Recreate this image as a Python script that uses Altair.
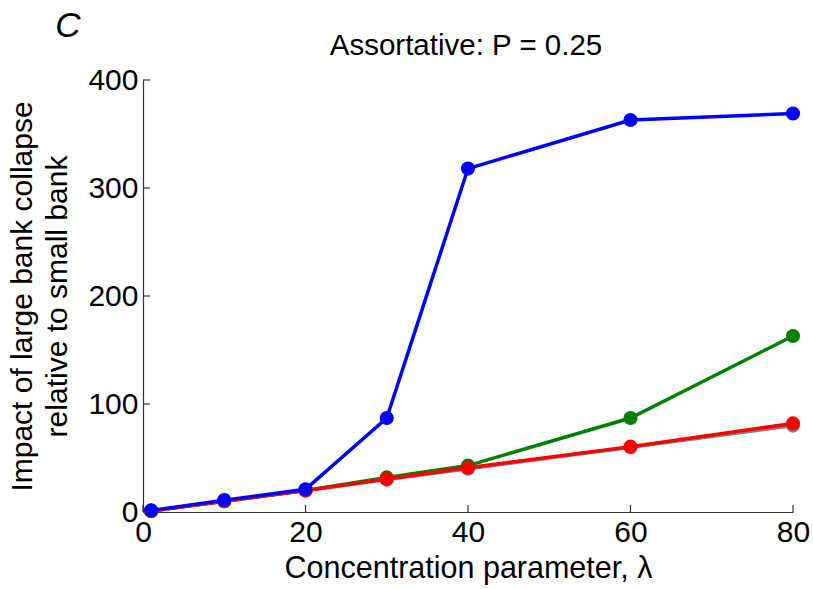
import altair as alt
import pandas as pd

# Concentration parameter values and impact ratios for each network case
lam = [1, 10, 20, 30, 40, 60, 80]
gray_vals = [1, 10, 20, 30, 40, 60, 80]
green_vals = [1, 10, 20, 32, 43, 87, 163]
red_vals = [1, 10, 20, 30.5, 41, 60.5, 82]
blue_vals = [1.5, 11, 21, 87, 318, 363, 369]

series_order = ["gray", "green", "red", "blue"]
series_values = {"gray": gray_vals, "green": green_vals, "red": red_vals, "blue": blue_vals}
series_colors = {"gray": "#808080", "green": "#008000", "red": "#ff0000", "blue": "#0000ff"}

x_ticks = [0, 20, 40, 60, 80]
y_ticks = [0, 100, 200, 300, 400]

FONT = "Liberation Sans"
AXIS_COLOR = "#333333"
W, H = 650, 432

x_scale = alt.Scale(domain=[0, 80], nice=False, zero=False)
y_scale = alt.Scale(domain=[0, 400], nice=False)

x_axis = alt.Axis(values=x_ticks, ticks=False, grid=False, domainColor=AXIS_COLOR,
                  domainWidth=1.2, labelFontSize=30, labelFont=FONT, labelColor="black",
                  labelPadding=5, title="Concentration parameter, λ", titleFontSize=30.5,
                  titleFont=FONT, titleFontWeight="normal", titleColor="black",
                  titleBaseline="alphabetic", titleY=65, labelFlush=False)
y_axis = alt.Axis(values=y_ticks, ticks=False, grid=False, domainColor=AXIS_COLOR,
                  domainWidth=1.2, labelFontSize=30, labelFont=FONT, labelColor="black",
                  labelPadding=5, title=["Impact of large bank collapse", "relative to small bank"],
                  titleFontSize=30, titleFont=FONT, titleFontWeight="normal",
                  titleColor="black", titleAngle=270, titleBaseline="middle",
                  titleX=-121, titleY=H / 2, titleLineHeight=35, labelFlush=False)

layers = []
for name in series_order:
    df = pd.DataFrame({"lam": lam, "impact": series_values[name]})
    base = alt.Chart(df).encode(
        x=alt.X("lam:Q", scale=x_scale, axis=x_axis),
        y=alt.Y("impact:Q", scale=y_scale, axis=y_axis),
    )
    layers.append(base.mark_line(color=series_colors[name], strokeWidth=3.5))
    layers.append(base.mark_circle(color=series_colors[name], size=200, opacity=1))

# Inward-pointing tick marks
xt = pd.DataFrame({"lam": x_ticks})
yt = pd.DataFrame({"impact": y_ticks})
x_tick_marks = alt.Chart(xt).mark_rule(color=AXIS_COLOR, strokeWidth=1.2).encode(
    x=alt.X("lam:Q", scale=x_scale, axis=x_axis), y=alt.value(H), y2=alt.value(H - 7))
y_tick_marks = alt.Chart(yt).mark_rule(color=AXIS_COLOR, strokeWidth=1.2).encode(
    y=alt.Y("impact:Q", scale=y_scale, axis=y_axis), x=alt.value(0), x2=alt.value(7))

panel_label = alt.Chart(pd.DataFrame({"t": ["C"]})).mark_text(
    font=FONT, fontSize=35, fontStyle="italic", align="center", baseline="alphabetic", color="black"
).encode(text="t:N", x=alt.value(-75), y=alt.value(-43))

plot_title = alt.Chart(pd.DataFrame({"t": ["Assortative: P = 0.25"]})).mark_text(
    font=FONT, fontSize=29.5, align="center", baseline="alphabetic", color="black"
).encode(text="t:N", x=alt.value(323), y=alt.value(-25))

chart = alt.layer(*layers, x_tick_marks, y_tick_marks, panel_label, plot_title).properties(
    width=W, height=H,
    background="white",
    autosize=alt.AutoSizeParams(type="none"),
    padding={"left": 143, "top": 80, "right": 20, "bottom": 77},
).configure_view(stroke=None)

chart.save("out.html", embed_options={"renderer": "svg", "actions": False})
